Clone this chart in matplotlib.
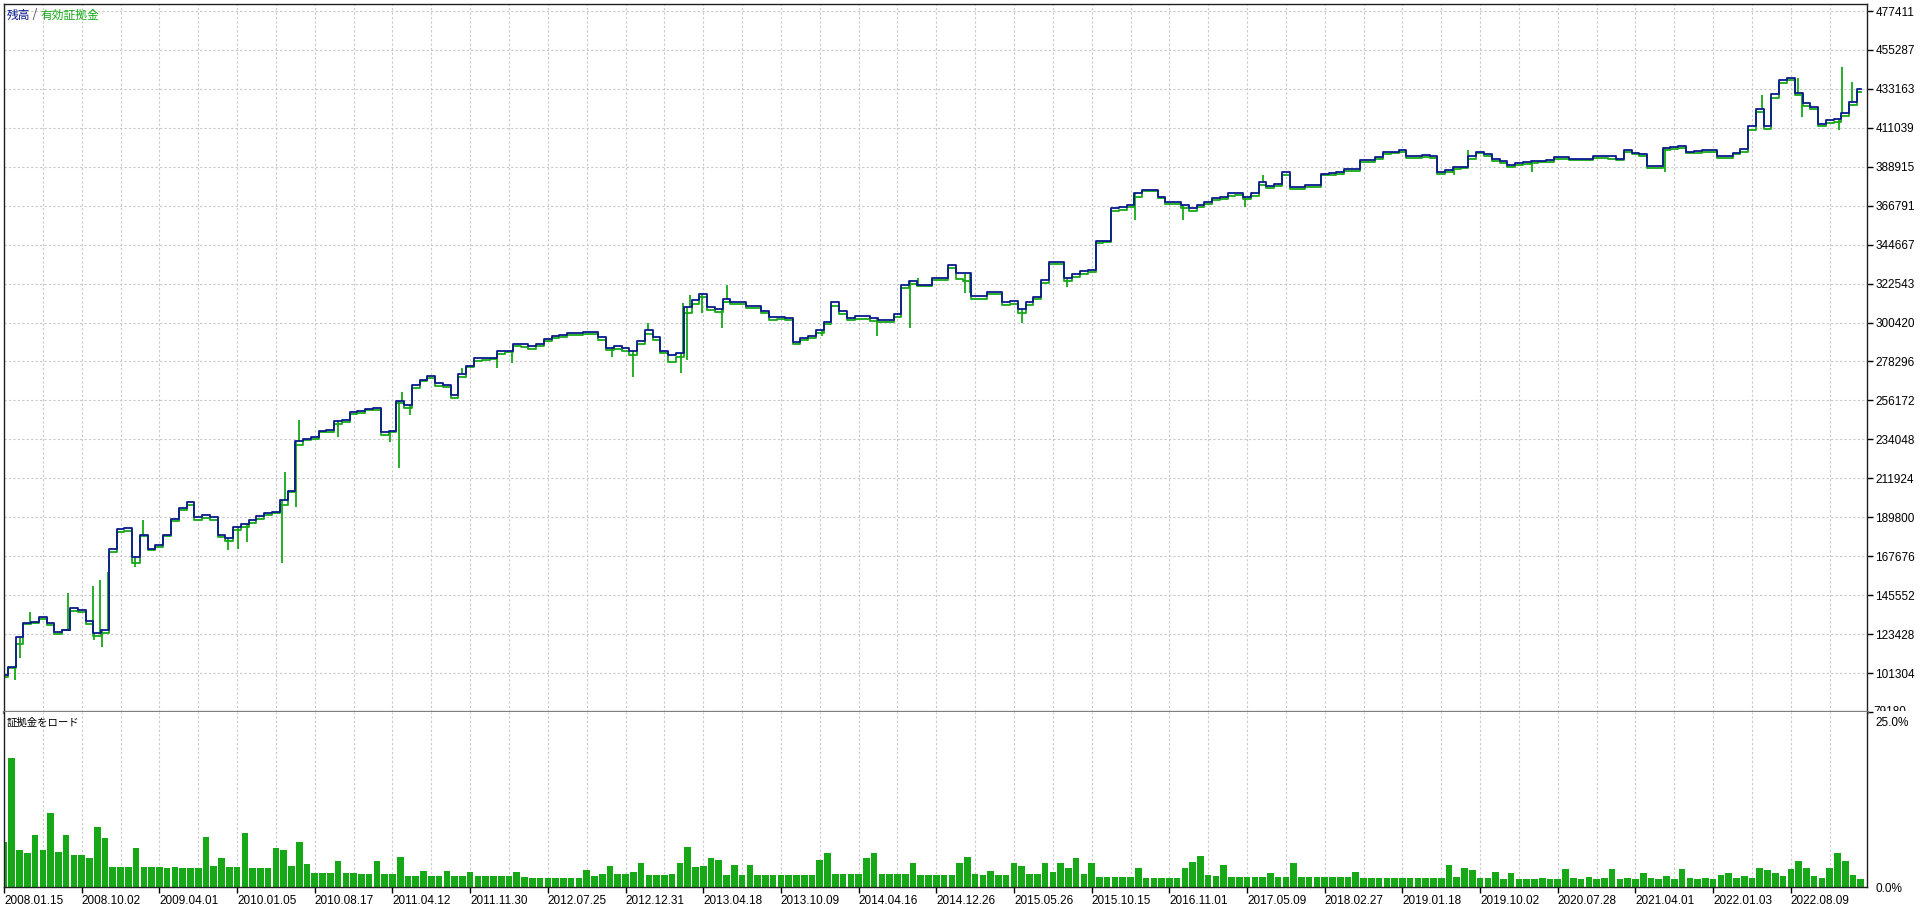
import numpy as np
import matplotlib
matplotlib.use('Agg')
import matplotlib.pyplot as plt
from matplotlib.transforms import Bbox, TransformedBbox

# balance and equity, one value per step along the test period
balance = [
    100000, 105000, 122000, 130000, 130500, 133000, 130000, 124600, 126000, 138000,
    137000, 131000, 124000, 126000, 172000, 183000, 183500, 167000, 180000, 172000,
    174000, 180000, 189000, 195000, 198500, 190000, 191000, 190000, 180000, 178000,
    184000, 186000, 188000, 190500, 192000, 193000, 199600, 205000, 233000, 234500,
    235500, 239000, 239500, 244500, 245000, 249600, 250000, 251500, 252000, 238000,
    239000, 256000, 253600, 265000, 268000, 270000, 266000, 265000, 259000, 271000,
    276000, 280000, 280000, 280500, 284000, 284500, 288000, 288000, 287000, 288000,
    291000, 293000, 293500, 294500, 294500, 295000, 295000, 292000, 286000, 287000,
    286000, 284000, 290000, 296000, 292000, 284500, 282000, 283000, 309000, 313000,
    316600, 309000, 308000, 314000, 312000, 312000, 310000, 310000, 307000, 303500,
    303500, 303000, 289500, 291600, 293000, 296000, 301000, 312000, 307000, 303000,
    304000, 304000, 303000, 302000, 302000, 305000, 322000, 324000, 322000, 322000,
    325700, 326000, 333000, 328500, 328500, 315500, 315500, 317800, 318000, 312000,
    312500, 308000, 312000, 315000, 324600, 334800, 335000, 326000, 328000, 329500,
    330000, 347000, 347000, 365500, 366000, 367000, 374000, 376000, 376000, 372000,
    369000, 369000, 367000, 365500, 367000, 369000, 371000, 371500, 374000, 374000,
    372000, 374000, 380000, 378000, 379000, 386000, 377500, 377500, 378500, 378500,
    385000, 385500, 386000, 387600, 387600, 392700, 392700, 394400, 397300, 397500,
    398400, 395000, 395000, 395500, 395000, 386000, 387000, 388700, 389000, 395000,
    397300, 396000, 393300, 392000, 390000, 391000, 391500, 392000, 392200, 392500,
    394400, 394400, 393500, 393500, 393500, 395000, 395000, 395000, 393500, 398400,
    397000, 396000, 389300, 389300, 399500, 400000, 400600, 397500, 398000, 398400,
    398400, 395000, 395000, 397000, 399000, 412000, 422000, 412000, 430000, 438000,
    439300, 431000, 425000, 422800, 413200, 415400, 416000, 419400, 425600, 433000,
]

equity = [
    99000, 104000, 118000, 129000, 129500, 132000, 128500, 123500, 126000, 136500,
    136000, 129000, 122500, 124000, 170000, 181500, 182000, 164000, 179000, 171000,
    173000, 179000, 187500, 194000, 197000, 188500, 189500, 188000, 178500, 176500,
    182500, 184500, 186500, 189000, 191000, 192000, 197000, 204000, 231000, 233500,
    234000, 238000, 238000, 243000, 244000, 248500, 249000, 250500, 251000, 236500,
    238000, 254500, 252000, 263500, 267000, 269000, 264500, 264000, 257500, 269500,
    275000, 278500, 279000, 279500, 282500, 283500, 287000, 286500, 285500, 287000,
    290000, 291500, 292000, 293500, 293500, 294000, 294000, 290500, 285000, 285500,
    284500, 282000, 288000, 294000, 290500, 283000, 278000, 281000, 306000, 311000,
    315000, 307500, 306500, 312000, 311000, 311000, 308500, 308500, 306000, 302000,
    302500, 302000, 288500, 290500, 291500, 294500, 299500, 310000, 305500, 302000,
    302500, 302500, 301500, 300500, 300500, 303500, 320000, 322500, 321000, 321000,
    324500, 324500, 331500, 325000, 324000, 314000, 314000, 316500, 316500, 310500,
    311000, 306000, 310500, 314000, 323000, 333500, 333500, 324000, 326500, 328000,
    329000, 345500, 346000, 364000, 364500, 366000, 372000, 375000, 375000, 371000,
    368000, 367500, 365500, 364000, 366000, 368000, 370000, 370500, 372500, 373000,
    370500, 372500, 378500, 377000, 378000, 384500, 376500, 376500, 377500, 377500,
    384000, 384500, 385000, 386500, 386500, 391500, 391500, 393500, 396000, 396500,
    397500, 394000, 394000, 394500, 394000, 385000, 386000, 387500, 388000, 393500,
    396500, 395000, 392000, 391000, 389000, 390000, 390500, 391000, 391500, 391500,
    393500, 393500, 392500, 392500, 392500, 394000, 394000, 393500, 392500, 397500,
    396000, 395000, 388000, 388500, 398500, 399000, 399500, 396500, 397000, 397500,
    397500, 394000, 394000, 396000, 397500, 410000, 420000, 410500, 428000, 436500,
    438000, 429500, 423500, 421500, 412000, 414000, 414500, 418000, 424000, 431500,
]

# short equity excursions (position on the step axis, extreme value)
spike_pos = [1.4, 2.1, 3.3, 8.2, 11.5, 11.6, 12.4, 12.6, 13.4, 16.9, 17.9, 28.8, 30.1,
             31.3, 35.8, 36.2, 37.6, 38.0, 43.0, 49.7, 50.8, 51.2, 52.3, 59.0, 63.4,
             65.4, 78.2, 81.0, 82.9, 87.1, 87.4, 87.9, 88.3, 89.8, 92.4, 93.1, 105.3,
             112.4, 116.6, 117.6, 123.7, 124.3, 131.0, 136.8, 145.6, 151.7, 159.7,
             162.0, 186.7, 188.4, 196.7, 213.8, 226.3, 226.5, 230.9, 231.4, 236.2,
             236.6, 237.9]
spike_val = [97400, 110000, 136000, 147000, 151000, 120000, 154000, 116000, 158700,
             161500, 188200, 171200, 172000, 176000, 163800, 215500, 195600, 245000,
             235400, 232600, 217800, 261000, 247900, 274600, 274600, 277500, 281000,
             269500, 300000, 271700, 311500, 279000, 316000, 305800, 297300, 321700,
             292600, 292600, 297300, 325700, 317000, 317000, 300000, 320600, 358600,
             358600, 366000, 384200, 384200, 398400, 385900, 385900, 429600, 411000,
             439300, 417000, 409800, 445500, 437000]

# margin load, percent
margin_load = [
    6.8, 19.5, 5.6, 5.1, 7.9, 5.6, 11.2, 5.3, 7.9, 4.8,
    4.8, 4.4, 9.1, 7.4, 3.0, 3.0, 3.0, 5.9, 3.0, 3.0,
    3.0, 2.9, 3.0, 2.9, 2.9, 2.9, 7.6, 3.2, 4.4, 3.0,
    3.0, 8.2, 2.9, 2.9, 2.8, 5.9, 5.5, 3.2, 6.8, 3.5,
    2.1, 2.1, 2.1, 3.9, 2.1, 2.1, 2.0, 2.0, 3.9, 2.0,
    2.0, 4.5, 1.7, 1.7, 2.4, 1.7, 1.7, 2.4, 1.7, 1.6,
    2.3, 1.6, 1.6, 1.6, 1.6, 1.6, 2.3, 1.5, 1.4, 1.4,
    1.4, 1.4, 1.4, 1.4, 1.4, 2.6, 1.6, 2.0, 3.1, 2.0,
    2.0, 2.2, 3.6, 1.8, 1.8, 1.8, 2.0, 3.6, 6.1, 3.0,
    3.2, 4.4, 4.0, 1.8, 3.3, 1.8, 3.3, 1.8, 1.8, 1.8,
    1.8, 1.8, 1.8, 1.8, 1.8, 4.0, 5.1, 2.0, 2.0, 2.0,
    2.0, 4.4, 5.1, 2.0, 2.0, 2.0, 2.0, 3.6, 1.8, 1.8,
    1.8, 1.8, 1.8, 3.6, 4.5, 2.0, 1.8, 2.4, 1.8, 1.8,
    3.6, 3.2, 2.0, 2.0, 3.6, 2.2, 3.6, 2.8, 4.4, 2.0,
    3.6, 1.5, 1.5, 1.5, 1.5, 1.5, 2.8, 1.4, 1.4, 1.4,
    1.4, 1.4, 2.8, 3.8, 4.7, 1.8, 1.6, 3.3, 1.5, 1.5,
    1.5, 1.5, 1.5, 2.1, 1.5, 1.5, 3.6, 1.5, 1.5, 1.5,
    1.5, 1.5, 1.5, 1.5, 2.2, 1.4, 1.4, 1.4, 1.3, 1.3,
    1.3, 1.3, 1.3, 1.3, 1.3, 1.3, 3.3, 1.5, 2.9, 2.5,
    1.3, 1.3, 2.2, 1.2, 2.1, 1.2, 1.2, 1.2, 1.4, 1.2,
    1.2, 2.7, 1.4, 1.2, 1.5, 1.2, 1.4, 2.7, 1.2, 1.4,
    1.2, 2.1, 1.4, 1.2, 1.6, 1.2, 2.7, 1.4, 1.2, 1.4,
    1.2, 1.8, 2.1, 1.4, 1.6, 1.4, 2.9, 2.6, 2.1, 1.6,
    2.7, 3.9, 2.9, 1.6, 1.4, 2.9, 5.1, 3.9, 1.8, 1.2,
]

y_ticks = [79180, 101304, 123428, 145552, 167676, 189800, 211924, 234048, 256172,
           278296, 300420, 322543, 344667, 366791, 388915, 411039, 433163, 455287,
           477411]
date_labels = ['2008.01.15', '2008.10.02', '2009.04.01', '2010.01.05', '2010.08.17',
               '2011.04.12', '2011.11.30', '2012.07.25', '2012.12.31', '2013.04.18',
               '2013.10.09', '2014.04.16', '2014.12.26', '2015.05.26', '2015.10.15',
               '2016.11.01', '2017.05.09', '2018.02.27', '2019.01.18', '2019.10.02',
               '2020.07.28', '2021.04.01', '2022.01.03', '2022.08.09']

plt.rcParams['font.family'] = ['Liberation Sans', 'Noto Sans CJK JP']
cjk = ['Noto Sans CJK JP', 'DejaVu Sans']

navy = '#0a1a8c'
green = '#17a817'
grid_col = '#c8c8c8'

W, H = 1920, 906
fig = plt.figure(figsize=(W / 100, H / 100), dpi=100)
ax1 = fig.add_axes([4 / W, 1 - 712 / H, 1863 / W, 708 / H])
ax2 = fig.add_axes([4 / W, 1 - 887 / H, 1863 / W, 175 / H])

xs = np.arange(len(balance))
xmax = 239.8

# equity first, balance on top
ax1.plot(xs, equity, color=green, lw=1.3, drawstyle='steps-mid')
base = [balance[int(round(p))] for p in spike_pos]
ax1.vlines(spike_pos, base, spike_val, color=green, lw=1.3)
ax1.plot(xs, balance, color=navy, lw=1.3, drawstyle='steps-mid')

ax1.set_xlim(0, xmax)
ax1.set_ylim(79180, 481388)
ax1.yaxis.tick_right()
ax1.set_yticks(y_ticks)
ax1.set_yticklabels([''] + [str(v) for v in y_ticks[1:]])
ax1.tick_params(axis='y', length=4, width=1, pad=2, labelsize=8.5, colors='black')
ax1.set_xticks(np.arange(0, 240, 5))
ax1.tick_params(axis='x', length=0, labelbottom=False)
ax1.grid(True, color=grid_col, lw=0.8, linestyle=(0, (2, 2)))
ax1.set_axisbelow(True)
for s in ['left', 'top', 'right']:
    ax1.spines[s].set_color('#202020')
    ax1.spines[s].set_linewidth(1)
ax1.spines['bottom'].set_color('#808080')
ax1.spines['bottom'].set_linewidth(2.4)

# bottom axis label of the top panel, cut off by the lower panel
t = fig.text(1873 / W, 1 - 712 / H, '79180', ha='left', va='center', fontsize=8.5)
t.set_clip_box(TransformedBbox(Bbox([[1868 / W, 1 - 711 / H], [1, 1]]), fig.transFigure))
t.set_clip_on(True)

# legend text
t1 = fig.text(7 / W, 1 - 15 / H, '残高', color=navy, fontsize=8.5, family=cjk, va='center')
t2 = ax1.annotate(' / ', xy=(1, 0), xycoords=t1, va='bottom', color='#404060',
                  fontsize=8.5, family=cjk)
ax1.annotate('有効証拠金', xy=(1, 0), xycoords=t2, va='bottom', color=green,
             fontsize=8.5, family=cjk)

# margin load panel
ax2.bar(xs, margin_load, width=0.85, color=green, linewidth=0)
ax2.set_xlim(0, xmax)
ax2.set_ylim(0, 26.36)
ax2.yaxis.tick_right()
ax2.set_yticks([0, 25])
ax2.set_yticklabels(['0.0%', '25.0%'])
ax2.tick_params(axis='y', length=0, pad=6, labelsize=8.5, colors='black')
ax2.set_xticks(np.arange(0, 240, 10))
ax2.set_xticklabels(date_labels, ha='left')
ax2.set_xticks(np.arange(5, 240, 10), minor=True)
ax2.tick_params(axis='x', which='major', length=4, width=1, pad=2, labelsize=8.5,
                colors='black')
ax2.tick_params(axis='x', which='minor', length=0)
ax2.grid(True, axis='x', which='both', color=grid_col, lw=0.8, linestyle=(0, (2, 2)))
ax2.set_axisbelow(True)
ax2.spines['top'].set_visible(False)
for s in ['left', 'right', 'bottom']:
    ax2.spines[s].set_color('#202020')
    ax2.spines[s].set_linewidth(1)

fig.text(7 / W, 1 - 723 / H, '証拠金をロード', fontsize=7.5, family=cjk, va='center',
         color='black')

fig.savefig('out.png', dpi=100)
